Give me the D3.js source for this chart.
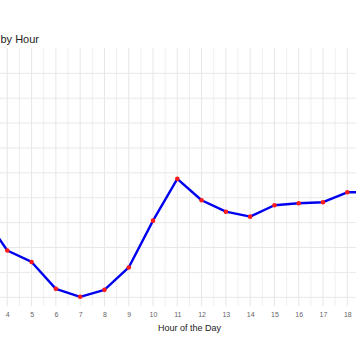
<!DOCTYPE html>
<html>
<head>
<meta charset="utf-8">
<script src="https://cdn.jsdelivr.net/npm/d3@7"></script>
<style>
  html, body { margin: 0; padding: 0; background: #fff; }
  svg { display: block; font-family: "Liberation Sans", Arial, sans-serif; }
</style>
</head>
<body>
<svg id="chart" width="356" height="364"></svg>
<script>
// Data
const hours = [3, 4, 5, 6, 7, 8, 9, 10, 11, 12, 13, 14, 15, 16, 17, 18, 19];
const values = [265, 194, 171, 117, 101, 115, 160, 254, 338, 295, 272, 262, 285, 289, 291, 311, 311];
const xTickLabels = [4, 5, 6, 7, 8, 9, 10, 11, 12, 13, 14, 15, 16, 17, 18];
const yGridValues = [100, 150, 200, 250, 300, 350, 400, 450, 500, 550];
const titleText = "by Hour";
const xTitle = "Hour of the Day";

const svg = d3.select("#chart");
const panelTop = 48, panelBottom = 306;

const x = d3.scaleLinear().domain([4, 18]).range([7.3, 347.3]);
const y = d3.scaleLinear().domain([100, 550]).range([297.3, 73.3]);

// vertical grid (hours and half hours)
const vGrid = d3.range(2.5, 20.01, 0.5);
svg.append("g").selectAll("line").data(vGrid).join("line")
  .attr("x1", d => x(d)).attr("x2", d => x(d))
  .attr("y1", panelTop).attr("y2", panelBottom)
  .attr("stroke", d => Number.isInteger(d) ? "#e6e6e6" : "#efefef")
  .attr("stroke-width", 1);

// horizontal grid
svg.append("g").selectAll("line").data(yGridValues).join("line")
  .attr("x1", 0).attr("x2", 356)
  .attr("y1", d => y(d)).attr("y2", d => y(d))
  .attr("stroke", "#e8e8e8")
  .attr("stroke-width", 1);

// x axis labels via d3 axis
const xAxis = d3.axisBottom(x).tickValues(xTickLabels).tickSize(0).tickPadding(0);
const gx = svg.append("g").attr("transform", `translate(0,${panelBottom + 6})`).call(xAxis);
gx.select(".domain").remove();
gx.selectAll("text").attr("font-size", 7).attr("fill", "#666").attr("font-family", "Liberation Sans, Arial, sans-serif");

// line
const line = d3.line().x((d, i) => x(hours[i])).y(d => y(d));
svg.append("path").datum(values)
  .attr("d", line)
  .attr("fill", "none")
  .attr("stroke", "#0000ee")
  .attr("stroke-width", 2.4)
  .attr("stroke-linejoin", "round");

// points
svg.append("g").selectAll("circle").data(values).join("circle")
  .attr("cx", (d, i) => x(hours[i])).attr("cy", d => y(d))
  .attr("r", 2.3).attr("fill", "#ff1a1a");

// titles
svg.append("text").attr("x", 0.5).attr("y", 43).attr("text-anchor", "start")
  .attr("font-size", 11).attr("fill", "#222").text(titleText);
svg.append("text").attr("x", 189.5).attr("y", 331).attr("text-anchor", "middle")
  .attr("font-size", 9).attr("fill", "#222").text(xTitle);
</script>
</body>
</html>
